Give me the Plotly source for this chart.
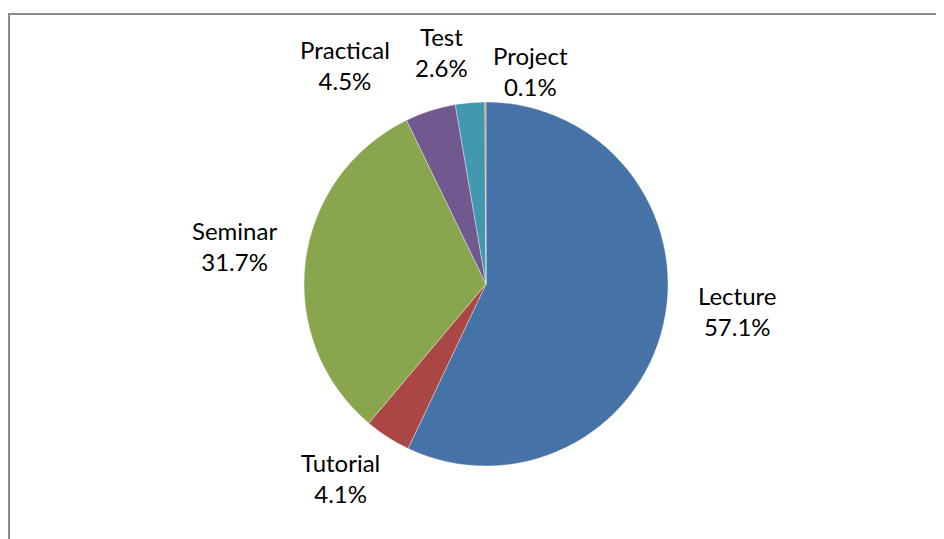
import plotly.graph_objects as go

# share of teaching hours by session type (reading order: clockwise from 12 o'clock)
session_types = ["Lecture", "Tutorial", "Seminar", "Practical", "Test", "Project"]
share_pct = [57.1, 4.1, 31.7, 4.5, 2.6, 0.1]
slice_colors = ["#4572A7", "#AA4643", "#89A54E", "#71588F", "#4198AF", "#DB843D"]

W, H = 944, 539
OFF = 8  # page body margin pushes the plot 8px right/down
cx, cy, r = 486 - OFF, 284 - OFF, 182

# label placement in page pixels (Excel-style fanned labels, no leader lines)
label_px = {
    "Lecture": (737, 311),
    "Tutorial": (340, 478),
    "Seminar": (234, 246),
    "Practical": (345, 65),
    "Test": (441, 52),
    "Project": (530, 71),
}

fig = go.Figure()
fig.add_trace(go.Pie(
    labels=session_types,
    values=share_pct,
    sort=False,
    direction="clockwise",
    rotation=0,
    marker=dict(colors=slice_colors, line=dict(color="rgba(255,255,255,0.6)", width=0.6)),
    textposition="none",
    automargin=False,
    showlegend=False,
    hoverinfo="label+value",
    domain=dict(x=[(cx - r) / W, (cx + r) / W],
                y=[1 - (cy + r) / H, 1 - (cy - r) / H]),
))

for name, pct in zip(session_types, share_pct):
    px_, py_ = label_px[name]
    fig.add_annotation(
        x=(px_ - OFF) / W, y=1 - (py_ - OFF) / H, xref="paper", yref="paper",
        text=f"{name}<br>{pct:.1f}%", showarrow=False,
        xanchor="center", yanchor="middle", align="center",
        font=dict(family="Lato, Calibri, sans-serif", size=24, color="#000000"),
    )

# chart-area frame (only left and top edges visible in the crop)
fig.add_shape(type="rect", xref="paper", yref="paper",
              x0=1 / W, x1=1.05, y0=-0.05, y1=1 - 6 / H,
              line=dict(color="#8c8c8c", width=2))

fig.update_layout(
    width=W, height=H,
    margin=dict(l=0, r=0, t=0, b=0),
    paper_bgcolor="white", plot_bgcolor="white",
)
fig.write_html("out.html")
